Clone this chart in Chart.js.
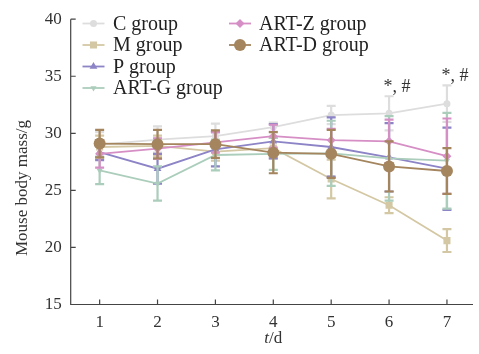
<!DOCTYPE html>
<html lang="en">
  <head>
    <meta charset="UTF-8" />
    <title>Mouse body mass</title>
    <script src="https://cdn.jsdelivr.net/npm/chart.js@4"></script>
    <style>
      html, body { margin: 0; padding: 0; background: #fff; }
      #wrap { width: 479px; height: 354px; position: relative; }
    </style>
  </head>
  <body>
    <div id="wrap"><canvas id="myChart" width="479" height="354"></canvas></div>
    <script>
      const days = [1, 2, 3, 4, 5, 6, 7];
      const yTicks = [15, 20, 25, 30, 35, 40];
      const groupNames = ["C group", "M group", "P group", "ART-G group", "ART-Z group", "ART-D group"];

      const cMean = [29.0, 29.45, 29.75, 30.55, 31.6, 31.75, 32.6];
      const cErr = [1.1, 1.15, 1.1, 0.4, 0.8, 1.5, 1.6];
      const mMean = [28.8, 28.9, 28.4, 28.7, 26.0, 23.7, 20.6];
      const mErr = [1.0, 0.9, 0.8, 0.9, 1.7, 0.7, 1.0];
      const pMean = [28.35, 26.9, 28.6, 29.3, 28.8, 27.9, 26.9];
      const pErr = [0.7, 1.3, 1.5, 1.5, 2.6, 3.0, 3.6];
      const gMean = [26.75, 25.6, 28.1, 28.2, 28.25, 27.8, 27.6];
      const gErr = [1.2, 1.5, 1.35, 1.4, 2.85, 3.7, 4.2];
      const zMean = [28.2, 28.65, 29.2, 29.75, 29.4, 29.3, 28.0];
      const zErr = [1.2, 0.9, 0.9, 1.0, 1.0, 1.9, 3.3];
      const dMean = [29.1, 29.05, 29.05, 28.3, 28.2, 27.1, 26.7];
      const dErr = [1.2, 1.25, 1.2, 1.8, 2.1, 2.2, 2.0];

      const signifDays = [6, 7];
      const signifText = "*, #";

      const serif = "'Liberation Serif', 'DejaVu Serif', serif";
      const axisColor = "#444";

      function pts(arr) {
        return days.map((d, i) => ({ x: d, y: arr[i] }));
      }

      function makeSet(i, mean, err, color, style, radius, rotation, order) {
        return {
          label: groupNames[i],
          data: pts(mean),
          err: err,
          borderColor: color,
          backgroundColor: color,
          borderWidth: 1.8,
          pointStyle: style,
          pointRadius: radius,
          pointRotation: rotation,
          pointBorderWidth: 0,
          pointBackgroundColor: color,
          order: order,
          tension: 0,
        };
      }

      const datasets = [
        makeSet(0, cMean, cErr, "#dddddd", "circle", 3.5, 0, 6),
        makeSet(1, mMean, mErr, "#d4c8a4", "rect", 5, 0, 5),
        makeSet(2, pMean, pErr, "#8c84c6", "triangle", 4.5, 0, 4),
        makeSet(3, gMean, gErr, "#abcdbb", "triangle", 3.5, 180, 3),
        makeSet(4, zMean, zErr, "#d68fc5", "rectRot", 4.5, 0, 2),
        makeSet(5, dMean, dErr, "#a4855e", "circle", 6, 0, 1),
      ];

      // error bars, drawn under each dataset's line
      const errorBars = {
        id: "errorBars",
        beforeDatasetDraw(chart, args) {
          const ds = chart.data.datasets[args.index];
          const ys = chart.scales.y;
          const xs = chart.scales.x;
          const ctx = chart.ctx;
          ctx.save();
          ctx.strokeStyle = ds.borderColor;
          ctx.lineWidth = 2.2;
          ds.data.forEach((p, i) => {
            const x = xs.getPixelForValue(p.x);
            const top = ys.getPixelForValue(p.y + ds.err[i]);
            const bot = ys.getPixelForValue(p.y - ds.err[i]);
            ctx.beginPath();
            ctx.moveTo(x, top);
            ctx.lineTo(x, bot);
            ctx.moveTo(x - 4.5, top);
            ctx.lineTo(x + 4.5, top);
            ctx.moveTo(x - 4.5, bot);
            ctx.lineTo(x + 4.5, bot);
            ctx.stroke();
          });
          ctx.restore();
        },
      };

      // axes lines with inward ticks, axis titles, legend, significance marks
      const extras = {
        id: "extras",
        afterDraw(chart) {
          const ctx = chart.ctx;
          const xs = chart.scales.x;
          const ys = chart.scales.y;
          const a = chart.chartArea;
          ctx.save();
          ctx.strokeStyle = axisColor;
          ctx.lineWidth = 1.2;
          ctx.beginPath();
          ctx.moveTo(a.left, ys.getPixelForValue(40));
          ctx.lineTo(a.left, a.bottom);
          ctx.lineTo(a.right, a.bottom);
          yTicks.forEach((v) => {
            const y = ys.getPixelForValue(v);
            ctx.moveTo(a.left, y);
            ctx.lineTo(a.left + 5, y);
          });
          days.forEach((d) => {
            const x = xs.getPixelForValue(d);
            ctx.moveTo(x, a.bottom);
            ctx.lineTo(x, a.bottom - 5);
          });
          ctx.stroke();

          // x title "t/d"
          ctx.fillStyle = "#333";
          ctx.textBaseline = "alphabetic";
          ctx.font = "italic 17px " + serif;
          const tW = ctx.measureText("t").width;
          ctx.font = "17px " + serif;
          const dW = ctx.measureText("/d").width;
          const cx = xs.getPixelForValue(4);
          const startX = cx - (tW + dW) / 2;
          ctx.font = "italic 17px " + serif;
          ctx.textAlign = "left";
          ctx.fillText("t", startX, 343);
          ctx.font = "17px " + serif;
          ctx.fillText("/d", startX + tW, 343);

          // y title
          ctx.save();
          ctx.translate(23, 188);
          ctx.rotate(-Math.PI / 2);
          ctx.textAlign = "center";
          ctx.textBaseline = "middle";
          ctx.font = "17px " + serif;
          ctx.fillText("Mouse body mass/g", 0, 0);
          ctx.restore();

          // significance marks
          ctx.font = "18px " + serif;
          ctx.textAlign = "center";
          ctx.textBaseline = "alphabetic";
          signifDays.forEach((d) => {
            const i = days.indexOf(d);
            const x = xs.getPixelForValue(d);
            const y = ys.getPixelForValue(cMean[i] + cErr[i]);
            ctx.fillText(signifText, x + 8, y - 4);
          });

          // legend in two columns
          const cols = [
            { mark: 93.5, text: 113, y0: 23.5, idx: [0, 1, 2, 3] },
            { mark: 240, text: 259, y0: 23.5, idx: [4, 5] },
          ];
          ctx.font = "20px " + serif;
          ctx.textAlign = "left";
          ctx.textBaseline = "middle";
          cols.forEach((c) => {
            c.idx.forEach((k, r) => {
              const ds = chart.data.datasets[k];
              const y = c.y0 + r * 21.5;
              ctx.strokeStyle = ds.borderColor;
              ctx.fillStyle = ds.borderColor;
              ctx.lineWidth = 1.8;
              ctx.beginPath();
              ctx.moveTo(c.mark - 11, y);
              ctx.lineTo(c.mark + 11, y);
              ctx.stroke();
              Chart.helpers.drawPoint(ctx, {
                pointStyle: ds.pointStyle,
                radius: ds.pointRadius,
                rotation: ds.pointRotation,
                borderWidth: 0,
              }, c.mark, y);
              ctx.fillStyle = "#222";
              ctx.fillText(ds.label, c.text, y + 1);
            });
          });
          ctx.restore();
        },
      };

      new Chart(document.getElementById("myChart"), {
        type: "line",
        data: { datasets: datasets },
        options: {
          responsive: false,
          animation: false,
          layout: { padding: { top: 19, right: 0, left: 0, bottom: 0 } },
          plugins: {
            legend: { display: false },
            tooltip: { enabled: false },
          },
          scales: {
            x: {
              type: "linear",
              min: 0.5,
              max: 7.45,
              afterFit(scale) { scale.height = 49.5; },
              afterBuildTicks(scale) { scale.ticks = days.map((d) => ({ value: d })); },
              border: { display: false },
              grid: { display: false, drawTicks: false },
              ticks: {
                padding: 8,
                color: "#333",
                font: { family: serif, size: 17 },
              },
            },
            y: {
              min: 15,
              max: 40,
              afterFit(scale) { scale.width = 70.7; },
              afterBuildTicks(scale) { scale.ticks = yTicks.map((v) => ({ value: v })); },
              border: { display: false },
              grid: { display: false, drawTicks: false },
              ticks: {
                padding: 9,
                color: "#333",
                font: { family: serif, size: 17 },
              },
            },
          },
        },
        plugins: [errorBars, extras],
      });
    </script>
  </body>
</html>
